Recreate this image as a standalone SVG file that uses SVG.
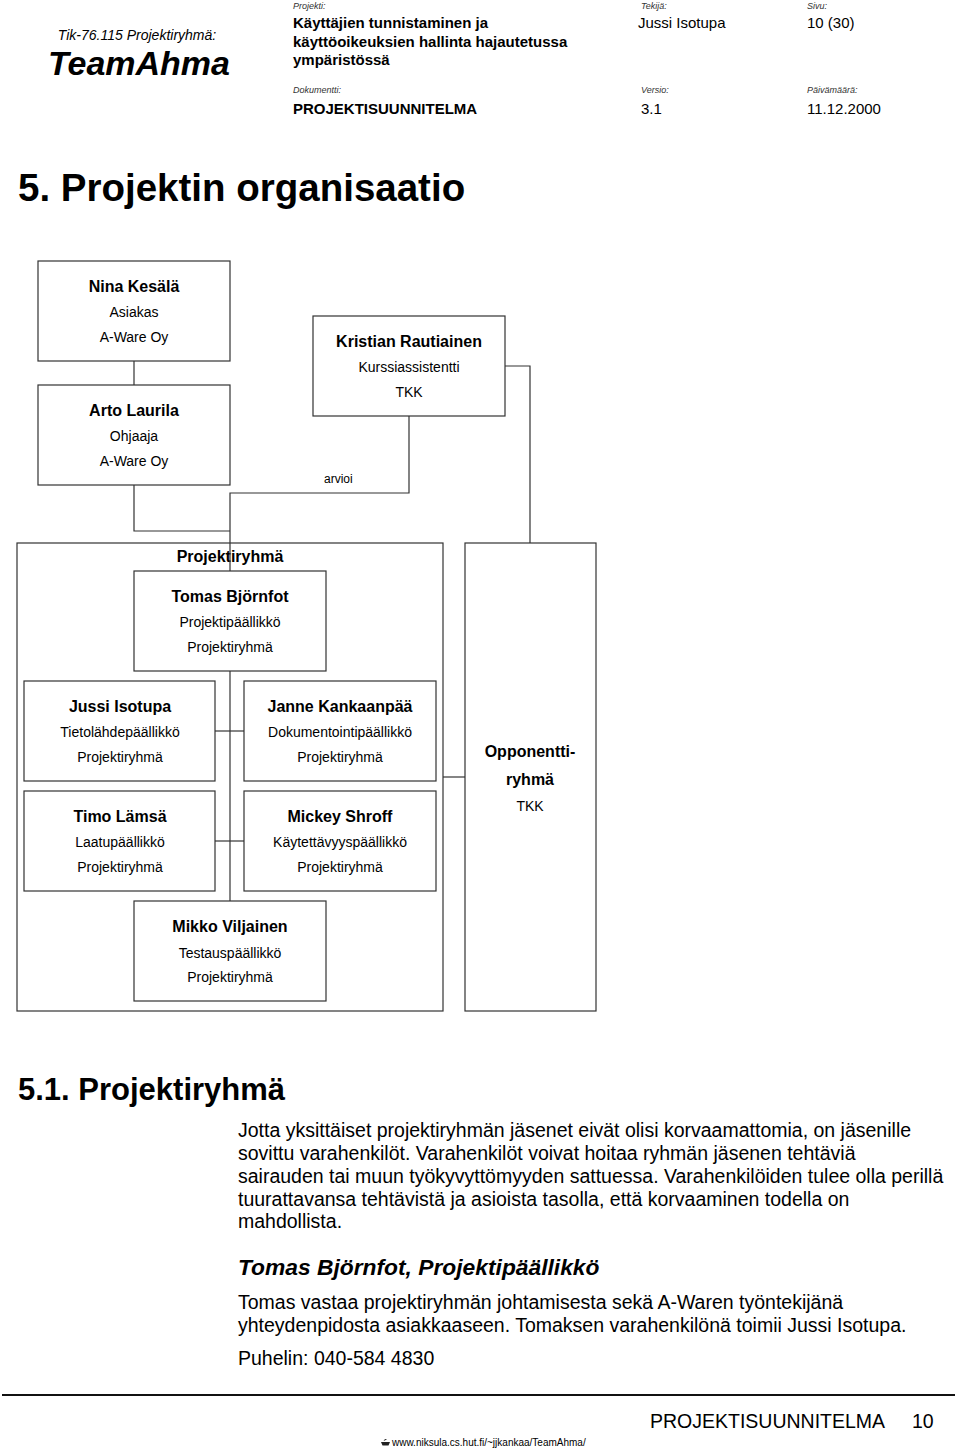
<svg xmlns="http://www.w3.org/2000/svg" width="960" height="1449" viewBox="0 0 960 1449">
<style>
text{font-family:"Liberation Sans",Arial,Helvetica,sans-serif;fill:#000}
.box{fill:#fff;stroke:#333;stroke-width:1.2}
.frame{fill:none;stroke:#333;stroke-width:1.2}
.conn{fill:none;stroke:#333;stroke-width:1.2}
.name{font-size:16px;font-weight:bold;text-anchor:middle}
.role{font-size:14px;text-anchor:middle}
.lbl{font-size:9px;font-style:italic;fill:#333}
.hb{font-size:15px;font-weight:bold}
.hr{font-size:15px}
.body{font-size:19.5px}
</style>
<rect width="960" height="1449" fill="#fff"/>

<g id="header">
<text x="137" y="40" font-size="14" font-style="italic" text-anchor="middle">Tik-76.115 Projektiryhmä:</text>
<text x="139" y="75" font-size="34" font-weight="bold" font-style="italic" text-anchor="middle">TeamAhma</text>
<text class="lbl" x="293" y="9">Projekti:</text>
<text class="hb" x="293" y="28">Käyttäjien tunnistaminen ja</text>
<text class="hb" x="293" y="47">käyttöoikeuksien hallinta hajautetussa</text>
<text class="hb" x="293" y="65">ympäristössä</text>
<text class="lbl" x="293" y="93">Dokumentti:</text>
<text class="hb" x="293" y="114">PROJEKTISUUNNITELMA</text>
<text class="lbl" x="641" y="9">Tekijä:</text>
<text class="hr" x="638" y="28">Jussi Isotupa</text>
<text class="lbl" x="807" y="9">Sivu:</text>
<text class="hr" x="807" y="28">10 (30)</text>
<text class="lbl" x="641" y="93">Versio:</text>
<text class="hr" x="641" y="114">3.1</text>
<text class="lbl" x="807" y="93">Päivämäärä:</text>
<text class="hr" x="807" y="114">11.12.2000</text>
</g>

<text x="18" y="201" font-size="38.5" font-weight="bold">5. Projektin organisaatio</text>

<g id="projektiryhma">
<rect class="frame" x="17" y="543" width="426" height="468"/>
<text class="name" x="230" y="562">Projektiryhmä</text>
</g>
<g id="opponenttiryhma">
<rect class="box" x="465" y="543" width="131" height="468"/>
<text class="name" x="530" y="757">Opponentti-</text>
<text class="name" x="530" y="785">ryhmä</text>
<text class="role" x="530" y="811">TKK</text>
</g>

<g id="connectors">
<path class="conn" d="M134,361 V385"/>
<path class="conn" d="M134,485 V531 H230"/>
<path class="conn" d="M409,416 V493 H230 V571"/>
<path class="conn" d="M505,366 H530 V543"/>
<path class="conn" d="M230,671 V901"/>
<path class="conn" d="M215,731 H244"/>
<path class="conn" d="M215,841 H244"/>
<path class="conn" d="M443,777 H465"/>
<text x="324" y="483" font-size="12">arvioi</text>
</g>

<g id="nina">
<rect class="box" x="38" y="261" width="192" height="100"/>
<text class="name" x="134" y="292">Nina Kesälä</text>
<text class="role" x="134" y="317">Asiakas</text>
<text class="role" x="134" y="342">A-Ware Oy</text>
</g>
<g id="arto">
<rect class="box" x="38" y="385" width="192" height="100"/>
<text class="name" x="134" y="416">Arto Laurila</text>
<text class="role" x="134" y="441">Ohjaaja</text>
<text class="role" x="134" y="466">A-Ware Oy</text>
</g>
<g id="kristian">
<rect class="box" x="313" y="316" width="192" height="100"/>
<text class="name" x="409" y="347">Kristian Rautiainen</text>
<text class="role" x="409" y="372">Kurssiassistentti</text>
<text class="role" x="409" y="397">TKK</text>
</g>
<g id="tomas">
<rect class="box" x="134" y="571" width="192" height="100"/>
<text class="name" x="230" y="602">Tomas Björnfot</text>
<text class="role" x="230" y="627">Projektipäällikkö</text>
<text class="role" x="230" y="652">Projektiryhmä</text>
</g>
<g id="jussi">
<rect class="box" x="24" y="681" width="191" height="100"/>
<text class="name" x="120" y="712">Jussi Isotupa</text>
<text class="role" x="120" y="737">Tietolähdepäällikkö</text>
<text class="role" x="120" y="762">Projektiryhmä</text>
</g>
<g id="janne">
<rect class="box" x="244" y="681" width="192" height="100"/>
<text class="name" x="340" y="712">Janne Kankaanpää</text>
<text class="role" x="340" y="737">Dokumentointipäällikkö</text>
<text class="role" x="340" y="762">Projektiryhmä</text>
</g>
<g id="timo">
<rect class="box" x="24" y="791" width="191" height="100"/>
<text class="name" x="120" y="822">Timo Lämsä</text>
<text class="role" x="120" y="847">Laatupäällikkö</text>
<text class="role" x="120" y="872">Projektiryhmä</text>
</g>
<g id="mickey">
<rect class="box" x="244" y="791" width="192" height="100"/>
<text class="name" x="340" y="822">Mickey Shroff</text>
<text class="role" x="340" y="847">Käytettävyyspäällikkö</text>
<text class="role" x="340" y="872">Projektiryhmä</text>
</g>
<g id="mikko">
<rect class="box" x="134" y="901" width="192" height="100"/>
<text class="name" x="230" y="932">Mikko Viljainen</text>
<text class="role" x="230" y="958">Testauspäällikkö</text>
<text class="role" x="230" y="982">Projektiryhmä</text>
</g>

<g id="text">
<text x="18" y="1100" font-size="31" font-weight="bold">5.1. Projektiryhmä</text>
<text class="body" x="238" y="1137">Jotta yksittäiset projektiryhmän jäsenet eivät olisi korvaamattomia, on jäsenille</text>
<text class="body" x="238" y="1160">sovittu varahenkilöt. Varahenkilöt voivat hoitaa ryhmän jäsenen tehtäviä</text>
<text class="body" x="238" y="1183">sairauden tai muun työkyvyttömyyden sattuessa. Varahenkilöiden tulee olla perillä</text>
<text class="body" x="238" y="1206">tuurattavansa tehtävistä ja asioista tasolla, että korvaaminen todella on</text>
<text class="body" x="238" y="1228">mahdollista.</text>
<text x="238" y="1275" font-size="22.8" font-weight="bold" font-style="italic">Tomas Björnfot, Projektipäällikkö</text>
<text class="body" x="238" y="1309">Tomas vastaa projektiryhmän johtamisesta sekä A-Waren työntekijänä</text>
<text class="body" x="238" y="1332">yhteydenpidosta asiakkaaseen. Tomaksen varahenkilönä toimii Jussi Isotupa.</text>
<text class="body" x="238" y="1365">Puhelin: 040-584 4830</text>
</g>

<g id="footer">
<line x1="2" y1="1395" x2="955" y2="1395" stroke="#111" stroke-width="2"/>
<text x="650" y="1428" font-size="19.5">PROJEKTISUUNNITELMA</text>
<text x="912" y="1428" font-size="19.5">10</text>
<path d="M381,1442 h9 l-1.5,3.5 h-6 z M383.5,1441 q1.5,-3 3.5,-1.5 z" fill="#222"/>
<text x="392" y="1446" font-size="10">www.niksula.cs.hut.fi/~jjkankaa/TeamAhma/</text>
</g>
</svg>
